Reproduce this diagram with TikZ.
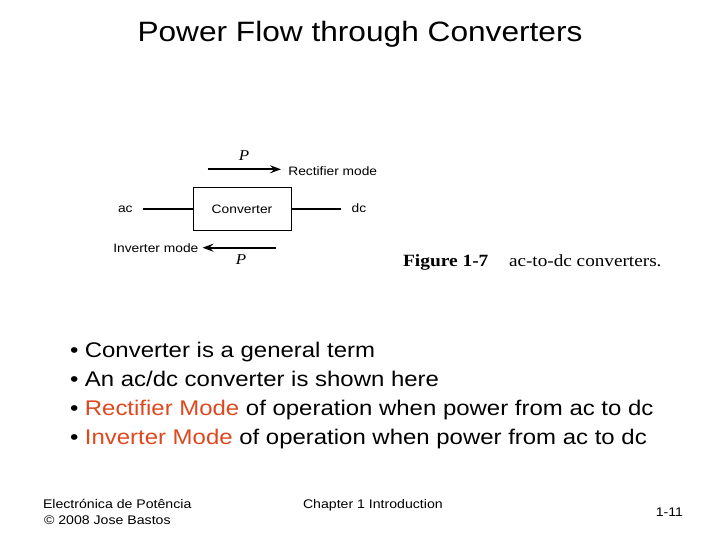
\documentclass[tikz,border=0pt]{standalone}
\usepackage{fontspec}
\setmainfont{Liberation Sans}[FakeStretch=1.13]
\newfontfamily\serifw{Liberation Serif}[FakeStretch=1.13]
\usetikzlibrary{arrows.meta}
\definecolor{accent}{RGB}{222,72,30}
\begin{document}
\begin{tikzpicture}[x=1pt,y=-1pt,
  txt/.style={inner sep=0pt, outer sep=0pt},
  small/.style={txt, font=\fontsize{12.2}{14}\selectfont},
  pow/.style={txt, font=\serifw\itshape\fontsize{15}{17}\selectfont},
  bul/.style={txt, anchor=base west, font=\fontsize{21.2}{24}\selectfont},
  foot/.style={txt, font=\fontsize{12.5}{14}\selectfont},
  wire/.style={line width=1.3pt},
  flow/.style={line width=2.2pt, -{Stealth[length=11pt,width=8pt,inset=4pt]}},
  boxst/.style={draw, line width=0.9pt, minimum width=98pt, minimum height=43pt, inner sep=0pt}]
\useasboundingbox (0,0) rectangle (720,540);

% title
\node[txt, anchor=base, font=\fontsize{28}{32}\selectfont] (title) at (360,42) {Power Flow through Converters};

% diagram
\node[boxst, font=\fontsize{12.2}{14}\selectfont] (conv) at (242,209) {Converter};
\node[small, anchor=base west] (ac) at (118,212.7) {ac};
\node[small, anchor=base west] (dc) at (351.7,212.7) {dc};
\coordinate (acend) at (143,209);
\coordinate (dcend) at (341,209);
\draw[wire] (acend) -- (conv.west);
\draw[wire] (conv.east) -- (dcend);

\coordinate (rs) at (207.7,169.3);
\coordinate (re) at (281,169.3);
\draw[flow] (rs) -- (re);
\node[small, anchor=base west] (rect) at (288.3,175.5) {Rectifier mode};
\node[pow, anchor=base] (ptop) at (244,160.7) {P};

\coordinate (is) at (276,247.7);
\coordinate (ie) at (202.5,247.7);
\draw[flow] (is) -- (ie);
\node[small, anchor=base west] (inv) at (113.3,252.3) {Inverter mode};
\node[pow, anchor=base] (pbot) at (241,264.3) {P};

% caption
\node[txt, anchor=base west, font=\serifw\bfseries\fontsize{17.2}{19}\selectfont] (fig) at (403,266) {Figure 1-7};
\node[txt, anchor=base west, font=\serifw\fontsize{17}{19}\selectfont] (cap) at (509,266) {ac-to-dc converters.};

% bullets
\node[bul] (b1) at (70,357) {\textbullet\hspace{6.5pt}Converter is a general term};
\node[bul] (b2) at (70,386) {\textbullet\hspace{6.5pt}An ac/dc converter is shown here};
\node[bul] (b3) at (70,415) {\textbullet\hspace{6.5pt}\textcolor{accent}{Rectifier Mode} of operation when power from ac to dc};
\node[bul] (b4) at (70,444) {\textbullet\hspace{6.5pt}\textcolor{accent}{Inverter Mode} of operation when power from ac to dc};

% footer
\node[foot, anchor=base west] (f1) at (43,508.5) {Electrónica de Potência};
\node[foot, anchor=base west] (f2) at (44,524) {© 2008 Jose Bastos};
\node[foot, anchor=base west] (f3) at (303,508.5) {Chapter 1 Introduction};
\node[foot, anchor=base east] (f4) at (683,516) {1-11};
\end{tikzpicture}
\end{document}
